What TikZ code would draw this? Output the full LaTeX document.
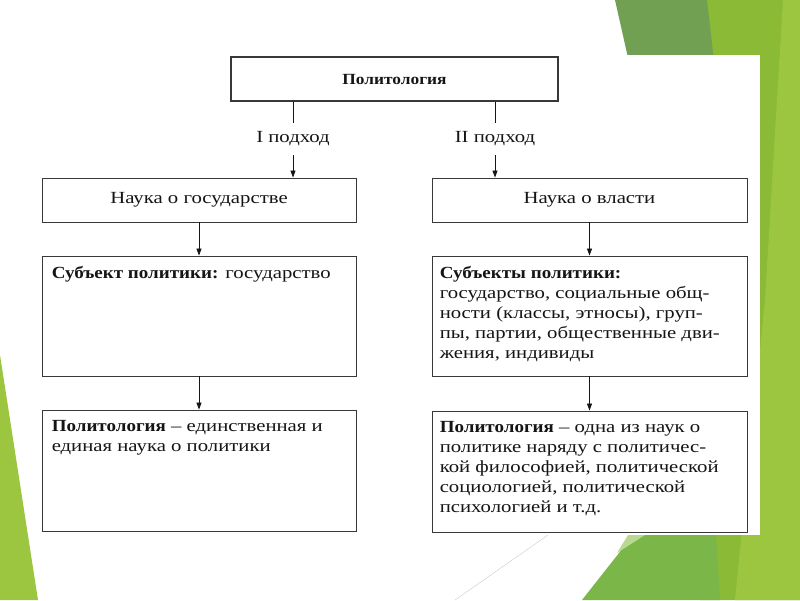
\documentclass[tikz,border=0pt]{standalone}
\usepackage{fontspec}
\setmainfont{Liberation Serif}[FakeStretch=1.22,BoldFeatures={FakeStretch=1.12}]
\usetikzlibrary{arrows.meta,positioning}
\definecolor{ink}{HTML}{151515}
\definecolor{leafdark}{HTML}{72A053}
\definecolor{leaf}{HTML}{8BBA37}
\definecolor{leaflight}{HTML}{9CC640}
\definecolor{leafmid}{HTML}{7AB648}
\definecolor{leafpale}{HTML}{B8D98F}
\hyphenpenalty=10000
\exhyphenpenalty=10000
\tikzset{
  txt/.style={text=ink,inner sep=0pt,font=\fontsize{17}{20}\selectfont},
  cell/.style={txt,draw=ink!85,line width=0.9pt,minimum width=315pt,minimum height=44pt},
  arr/.style={draw=ink,line width=0.8pt,-{Triangle[length=7pt,width=5pt]}},
}
\begin{document}
\begin{tikzpicture}[x=1pt,y=-1pt]
\useasboundingbox (0,0) rectangle (800,600);
% slide
\fill[white] (0,0) rectangle (800,600);
\fill[leaflight] (0,355) -- (38,600) -- (0,600) -- cycle;
\fill[leaf] (707,0) -- (800,0) -- (800,600) -- (700,600) -- cycle;
\fill[leaflight] (783,0) -- (800,0) -- (800,600) -- (735,600) -- (765,300) -- cycle;
\fill[leafdark] (615,0) -- (707,0) -- (730,200) -- (660,200) -- cycle;
\fill[leafmid] (582,600) -- (645,520) -- (715,520) -- (720,600) -- cycle;
\fill[leafpale] (617,553) -- (628,535) -- (645,535) -- cycle;
\draw[black!20,line width=0.4pt] (455,600) -- (548,535);
% scanned sheet
\fill[white] (40,55) rectangle (760,535);

\node[cell,minimum width=327pt,line width=1.6pt,font=\bfseries\fontsize{15.5}{18}\selectfont] (title) at (394.5,79) {Политология};
\node[txt,minimum height=32pt] (ap1) at (293,139) {I подход};
\node[txt,minimum height=32pt] (ap2) at (495,139) {II подход};

% I
\node[cell,minimum width=314pt] (sciA) at (199,200) {Наука о государстве};
\node[cell,minimum width=314pt,minimum height=120pt] (subjA) at (199,316) {};
\node[txt,anchor=north west] (subjAt) at ([xshift=10pt,yshift=-11pt]subjA.north west) {\textbf{Субъект политики:} государство};
\node[cell,minimum width=314pt,minimum height=121pt] (polA) at (199,470.5) {};
\node[txt,anchor=north west,align=left] (polAt) at ([xshift=10pt,yshift=-11pt]polA.north west) {\textbf{Политология} – единственная и\\единая наука о политики};

% II
\node[cell] (sciB) at (589.5,200) {Наука о власти};
\node[cell,minimum height=120pt] (subjB) at (589.5,316) {};
\node[txt,anchor=north west,align=left] (subjBt) at ([xshift=8pt,yshift=-11pt]subjB.north west) {\textbf{Субъекты политики:}\\государство, социальные общ-\\ности (классы, этносы), груп-\\пы, партии, общественные дви-\\жения, индивиды};
\node[cell,minimum height=121pt] (polB) at (589.5,471.5) {};
\node[txt,anchor=north west,align=left] (polBt) at ([xshift=8pt,yshift=-11pt]polB.north west) {\textbf{Политология} – одна из наук о\\политике наряду с политичес-\\кой философией, политической\\социологией, политической\\психологией и т.д.};

\draw[ink,line width=0.8pt] (title.south -| ap1) -- (ap1);
\draw[ink,line width=0.8pt] (title.south -| ap2) -- (ap2);
\draw[arr] (ap1) -- (ap1 |- sciA.north);
\draw[arr] (ap2) -- (ap2 |- sciB.north);
\draw[arr] (sciA) -- (subjA);
\draw[arr] (subjA) -- (polA);
\draw[arr] (sciB) -- (subjB);
\draw[arr] (subjB) -- (polB);
\end{tikzpicture}
\end{document}
